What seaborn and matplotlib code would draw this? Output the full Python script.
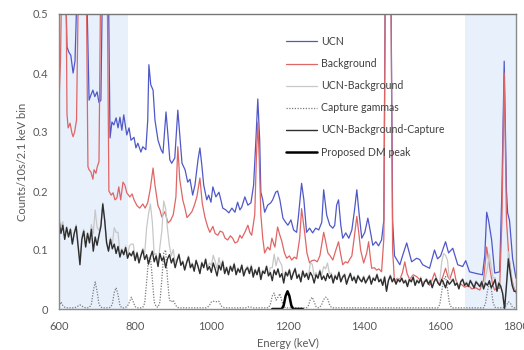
import matplotlib
matplotlib.use("Agg")
import matplotlib.pyplot as plt
import seaborn as sns
import numpy as np
from matplotlib.path import Path
from matplotlib.patches import PathPatch

sns.set_style("white")
plt.rcParams["font.family"] = ["Lato", "DejaVu Sans"]

# ---------------------------------------------------------------- data
# UCN spectrum (keV, counts per 10 s per 2.1 keV bin); values above 0.5 run off the scale
ucn_energy = [600, 616, 621, 626, 631, 637, 642, 650, 671, 679, 684, 689, 694, 700, 705, 710,
              715, 729, 734, 739, 744, 750, 755, 760, 765, 770, 778, 784, 789, 797, 802, 807,
              815, 820, 828, 833, 836, 841, 847, 852, 860, 868, 873, 881, 886, 891, 896, 904,
              912, 917, 923, 931, 938, 944, 951, 957, 965, 970, 975, 980, 988, 993, 999, 1004,
              1012, 1020, 1025, 1030, 1038, 1046, 1054, 1062, 1069, 1075, 1080, 1088, 1096, 1104,
              1111, 1117, 1122, 1127, 1130, 1135, 1140, 1148, 1156, 1161, 1169, 1174, 1180, 1188,
              1195, 1201, 1209, 1216, 1224, 1229, 1237, 1243, 1250, 1258, 1266, 1274, 1282, 1290,
              1295, 1303, 1311, 1319, 1324, 1329, 1334, 1340, 1345, 1353, 1361, 1369, 1376, 1382,
              1387, 1395, 1403, 1411, 1416, 1424, 1432, 1439, 1447, 1453, 1458, 1470, 1476, 1481,
              1495, 1502, 1513, 1526, 1539, 1547, 1555, 1573, 1586, 1594, 1602, 1615, 1623, 1634,
              1647, 1660, 1668, 1678, 1697, 1712, 1718, 1723, 1728, 1736, 1744, 1757, 1763, 1769,
              1775, 1778, 1783, 1791, 1800]
ucn_counts = [0.60, 0.60, 0.444, 0.435, 0.43, 0.40, 0.42, 0.60, 0.60, 0.354, 0.363, 0.371, 0.36, 0.368, 0.35, 0.354,
              0.60, 0.60, 0.29, 0.317, 0.312, 0.324, 0.307, 0.325, 0.303, 0.329, 0.295, 0.307, 0.286, 0.291, 0.273, 0.281,
              0.266, 0.275, 0.27, 0.32, 0.414, 0.38, 0.371, 0.32, 0.286, 0.27, 0.264, 0.334, 0.295, 0.253, 0.247, 0.256,
              0.337, 0.295, 0.247, 0.236, 0.215, 0.22, 0.193, 0.21, 0.253, 0.273, 0.244, 0.21, 0.185, 0.193, 0.181, 0.207,
              0.19, 0.198, 0.185, 0.171, 0.168, 0.163, 0.171, 0.164, 0.181, 0.168, 0.173, 0.19, 0.176, 0.18,
              0.21, 0.286, 0.356, 0.286, 0.198, 0.185, 0.164, 0.176, 0.18, 0.185, 0.198, 0.20, 0.185, 0.154,
              0.147, 0.142, 0.151, 0.134, 0.13, 0.159, 0.213, 0.185, 0.13, 0.137, 0.129, 0.137, 0.134, 0.147,
              0.202, 0.159, 0.142, 0.137, 0.142, 0.176, 0.185, 0.142, 0.12, 0.129, 0.12, 0.134, 0.168, 0.202,
              0.168, 0.12, 0.13, 0.154, 0.137, 0.108, 0.114, 0.107, 0.117, 0.151, 0.70, 0.70, 0.15, 0.09,
              0.075, 0.09, 0.112, 0.08, 0.086, 0.084, 0.075, 0.069, 0.10, 0.085, 0.09, 0.114, 0.095, 0.103,
              0.075, 0.072, 0.082, 0.063, 0.06, 0.058, 0.09, 0.164, 0.15, 0.117, 0.061, 0.063, 0.20, 0.42,
              0.20, 0.163, 0.15, 0.086, 0.052]

# Background spectrum
bkg_energy = [600, 604, 608, 618, 621, 624, 629, 634, 637, 641, 646, 652, 671, 676, 679, 684,
              689, 692, 697, 700, 705, 710, 726, 731, 737, 742, 747, 752, 757, 762, 768, 773,
              778, 786, 792, 797, 805, 812, 820, 826, 833, 840, 847, 852, 860, 865, 870, 878,
              886, 893, 900, 907, 912, 917, 925, 931, 936, 943, 949, 955, 962, 970, 976, 983,
              990, 996, 1004, 1010, 1017, 1023, 1030, 1036, 1043, 1050, 1056, 1062, 1069, 1075, 1080, 1088,
              1096, 1101, 1106, 1114, 1118, 1122, 1126, 1130, 1135, 1140, 1148, 1154, 1159, 1164, 1167, 1174,
              1180, 1185, 1192, 1198, 1205, 1211, 1218, 1224, 1232, 1237, 1241, 1245, 1251, 1258, 1264, 1271,
              1278, 1285, 1290, 1295, 1300, 1306, 1312, 1319, 1327, 1334, 1339, 1345, 1352, 1358, 1364, 1369,
              1375, 1382, 1387, 1392, 1400, 1408, 1413, 1417, 1421, 1428, 1434, 1440, 1447, 1453, 1458, 1470,
              1476, 1481, 1488, 1495, 1502, 1508, 1514, 1521, 1530, 1539, 1547, 1555, 1564, 1573, 1580, 1586,
              1593, 1600, 1608, 1615, 1621, 1626, 1636, 1642, 1647, 1656, 1665, 1675, 1684, 1694, 1705, 1715,
              1723, 1731, 1739, 1744, 1750, 1757, 1763, 1769, 1775, 1781, 1789, 1795, 1800]
bkg_counts = [0.35, 0.42, 0.60, 0.60, 0.33, 0.307, 0.315, 0.298, 0.292, 0.30, 0.32, 0.60, 0.60, 0.241, 0.236, 0.232,
              0.22, 0.236, 0.23, 0.24, 0.25, 0.60, 0.60, 0.20, 0.193, 0.197, 0.185, 0.188, 0.207, 0.185, 0.215, 0.21,
              0.197, 0.19, 0.195, 0.185, 0.175, 0.171, 0.178, 0.171, 0.18, 0.205, 0.239, 0.21, 0.175, 0.168, 0.156, 0.165,
              0.146, 0.15, 0.16, 0.19, 0.275, 0.22, 0.185, 0.17, 0.155, 0.16, 0.165, 0.175, 0.19, 0.222, 0.18, 0.156,
              0.14, 0.13, 0.14, 0.128, 0.125, 0.132, 0.13, 0.12, 0.117, 0.124, 0.12, 0.112, 0.114, 0.125, 0.12, 0.13,
              0.142, 0.13, 0.125, 0.16, 0.25, 0.317, 0.25, 0.16, 0.12, 0.095, 0.105, 0.10, 0.12, 0.11, 0.105, 0.139,
              0.125, 0.115, 0.095, 0.086, 0.09, 0.083, 0.088, 0.085, 0.12, 0.17, 0.15, 0.13, 0.095, 0.078, 0.082, 0.083,
              0.08, 0.09, 0.11, 0.13, 0.115, 0.095, 0.09, 0.083, 0.10, 0.114, 0.095, 0.075, 0.08, 0.078, 0.085, 0.09,
              0.12, 0.157, 0.13, 0.10, 0.078, 0.095, 0.114, 0.09, 0.069, 0.07, 0.066, 0.068, 0.063, 0.12, 0.70, 0.70,
              0.10, 0.046, 0.052, 0.05, 0.062, 0.08, 0.06, 0.05, 0.058, 0.055, 0.05, 0.044, 0.048, 0.04, 0.05, 0.061,
              0.048, 0.042, 0.055, 0.069, 0.055, 0.05, 0.07, 0.05, 0.04, 0.042, 0.037, 0.04, 0.034, 0.036, 0.032, 0.05,
              0.105, 0.07, 0.04, 0.032, 0.036, 0.035, 0.15, 0.40, 0.15, 0.09, 0.05, 0.035, 0.027]

# Common 5 keV grid for the subtracted spectra
grid_energy = np.arange(600, 1801, 5)

# UCN - Background - Capture (residual)
residual = [
    0.150, 0.128, 0.142, 0.118, 0.138, 0.122, 0.135, 0.110, 0.128, 0.140, 0.108, 0.075, 0.118, 0.132, 0.105, 0.128, 0.112, 0.135, 0.098, 0.122,
    0.108, 0.125, 0.140, 0.178, 0.150, 0.112, 0.098, 0.118, 0.102, 0.110, 0.094, 0.106, 0.088, 0.100, 0.092, 0.104, 0.086, 0.095, 0.090, 0.098,
    0.082, 0.095, 0.078, 0.090, 0.100, 0.084, 0.092, 0.076, 0.088, 0.098, 0.080, 0.090, 0.072, 0.094, 0.082, 0.088, 0.070, 0.085, 0.092, 0.078,
    0.086, 0.070, 0.082, 0.092, 0.074, 0.080, 0.066, 0.078, 0.088, 0.070, 0.076, 0.064, 0.082, 0.072, 0.060, 0.078, 0.070, 0.084, 0.066, 0.072,
    0.062, 0.078, 0.068, 0.056, 0.074, 0.066, 0.080, 0.060, 0.070, 0.058, 0.072, 0.064, 0.076, 0.058, 0.068, 0.062, 0.074, 0.056, 0.066, 0.070,
    0.060, 0.072, 0.054, 0.066, 0.058, 0.070, 0.050, 0.064, 0.060, 0.072, 0.056, 0.062, 0.048, 0.066, 0.058, 0.068, 0.054, 0.060, 0.044, 0.062,
    0.056, 0.066, 0.050, 0.060, 0.068, 0.052, 0.058, 0.046, 0.064, 0.054, 0.060, 0.050, 0.062, 0.056, 0.044, 0.058, 0.052, 0.064, 0.050, 0.056,
    0.048, 0.060, 0.052, 0.058, 0.044, 0.056, 0.050, 0.062, 0.046, 0.054, 0.058, 0.042, 0.052, 0.060, 0.048, 0.054, 0.044, 0.056, 0.050, 0.046,
    0.054, 0.044, 0.050, 0.056, 0.042, 0.052, 0.048, 0.058, 0.046, 0.050, 0.040, 0.054, 0.030, 0.048, 0.056, 0.046, 0.052, 0.042, 0.050, 0.046,
    0.052, 0.044, 0.048, 0.038, 0.050, 0.046, 0.054, 0.040, 0.048, 0.044, 0.052, 0.038, 0.046, 0.050, 0.042, 0.048, 0.036, 0.046, 0.052, 0.044,
    0.040, 0.050, 0.044, 0.036, 0.048, 0.042, 0.046, 0.050, 0.040, 0.044, 0.034, 0.046, 0.050, 0.040, 0.044, 0.038, 0.048, 0.042, 0.036, 0.046,
    0.042, 0.038, 0.046, 0.034, 0.044, 0.040, 0.048, 0.036, 0.042, 0.050, 0.030, 0.044, 0.038, 0.026, 0.000, 0.040, 0.085, 0.060, 0.040, 0.030,
    0.030,
]

# Capture gamma template
capture = [
    0.004, 0.012, 0.006, 0.003, 0.002, 0.002, 0.002, 0.002, 0.002, 0.003, 0.005, 0.007, 0.005, 0.003, 0.002, 0.002, 0.003, 0.008, 0.030, 0.046,
    0.030, 0.008, 0.003, 0.002, 0.002, 0.002, 0.002, 0.003, 0.008, 0.028, 0.036, 0.024, 0.006, 0.002, 0.002, 0.003, 0.005, 0.012, 0.020, 0.012,
    0.004, 0.002, 0.002, 0.002, 0.003, 0.010, 0.045, 0.085, 0.090, 0.050, 0.012, 0.004, 0.003, 0.012, 0.050, 0.095, 0.100, 0.050, 0.015, 0.012,
    0.015, 0.008, 0.003, 0.002, 0.002, 0.002, 0.002, 0.002, 0.002, 0.002, 0.002, 0.002, 0.002, 0.002, 0.002, 0.002, 0.002, 0.002, 0.003, 0.006,
    0.012, 0.013, 0.013, 0.012, 0.013, 0.006, 0.003, 0.002, 0.002, 0.002, 0.002, 0.002, 0.002, 0.002, 0.002, 0.002, 0.002, 0.002, 0.002, 0.003,
    0.004, 0.003, 0.002, 0.002, 0.002, 0.002, 0.002, 0.002, 0.002, 0.002, 0.002, 0.008, 0.022, 0.027, 0.015, 0.020, 0.026, 0.014, 0.004, 0.002,
    0.002, 0.002, 0.002, 0.002, 0.002, 0.002, 0.002, 0.002, 0.002, 0.002, 0.002, 0.006, 0.016, 0.020, 0.012, 0.004, 0.002, 0.003, 0.008, 0.016,
    0.020, 0.018, 0.008, 0.003, 0.002, 0.002, 0.002, 0.002, 0.002, 0.002, 0.002, 0.002, 0.002, 0.002, 0.002, 0.002, 0.002, 0.002, 0.002, 0.002,
    0.002, 0.002, 0.002, 0.002, 0.002, 0.002, 0.002, 0.002, 0.002, 0.002, 0.002, 0.002, 0.002, 0.002, 0.002, 0.002, 0.002, 0.002, 0.002, 0.002,
    0.002, 0.002, 0.002, 0.002, 0.002, 0.002, 0.002, 0.002, 0.002, 0.002, 0.002, 0.002, 0.002, 0.002, 0.002, 0.002, 0.002, 0.002, 0.002, 0.002,
    0.008, 0.030, 0.050, 0.055, 0.035, 0.010, 0.003, 0.002, 0.002, 0.002, 0.002, 0.002, 0.002, 0.002, 0.002, 0.002, 0.002, 0.002, 0.002, 0.002,
    0.002, 0.002, 0.002, 0.002, 0.010, 0.030, 0.045, 0.035, 0.010, 0.003, 0.002, 0.002, 0.002, 0.002, 0.003, 0.006, 0.012, 0.010, 0.004, 0.002,
    0.002,
]

# UCN - Background is the residual with the capture gammas put back
ucn_minus_bkg = np.array(residual) + np.array(capture)

# Proposed dark-matter peak
dm_energy = [1160, 1185, 1190, 1195, 1200, 1205, 1210, 1215, 1240]
dm_counts = [0.0, 0.0, 0.006, 0.022, 0.030, 0.022, 0.006, 0.0, 0.0]

# Shaded energy windows
windows = [(600, 780), (1665, 1800)]

x_ticks = [600, 800, 1000, 1200, 1400, 1600, 1800]
y_ticks = [0, 0.1, 0.2, 0.3, 0.4, 0.5]
y_tick_labels = ["0", "0.1", "0.2", "0.3", "0.4", "0.5"]

# ---------------------------------------------------------------- figure
text_color = "#595959"
fig = plt.figure(figsize=(5.24, 3.5), dpi=100)
ax = fig.add_axes([59 / 524, 1 - 309 / 350, 457 / 524, 295 / 350])

for lo, hi in windows:
    ax.axvspan(lo, hi, color="#e8f0fc", lw=0, zorder=0)

# the 1460 keV line is allowed to poke out above the frame
clip_verts = [(590, -0.03), (1810, -0.03), (1810, 0.5), (1476, 0.5), (1476, 0.6),
              (1448, 0.6), (1448, 0.5), (590, 0.5), (590, -0.03)]
clip_patch = PathPatch(Path(clip_verts, closed=True), transform=ax.transData,
                       facecolor="none", edgecolor="none")

sns.lineplot(x=ucn_energy, y=ucn_counts, ax=ax, color="#4f58c8", lw=0.9,
             label="UCN", estimator=None, sort=False, errorbar=None)
ax.lines[-1].set_clip_path(clip_patch)
sns.lineplot(x=bkg_energy, y=bkg_counts, ax=ax, color="#e06565", lw=0.9,
             label="Background", estimator=None, sort=False, errorbar=None)
ax.lines[-1].set_clip_path(clip_patch)
sns.lineplot(x=grid_energy, y=ucn_minus_bkg, ax=ax, color="#c8c8c8", lw=0.9,
             label="UCN-Background", estimator=None, sort=False, errorbar=None)
sns.lineplot(x=grid_energy, y=capture, ax=ax, color="#7a7a7a", lw=0.9,
             linestyle=(0, (1, 1.2)), label="Capture gammas",
             estimator=None, sort=False, errorbar=None)
sns.lineplot(x=grid_energy, y=np.array(ucn_minus_bkg) - np.array(capture), ax=ax,
             color="#2e2e2e", lw=1.0, label="UCN-Background-Capture",
             estimator=None, sort=False, errorbar=None)
sns.lineplot(x=dm_energy, y=dm_counts, ax=ax, color="black", lw=1.8,
             label="Proposed DM peak", estimator=None, sort=False, errorbar=None)

ax.set_xlim(600, 1800)
ax.set_ylim(0, 0.5)
ax.set_xticks(x_ticks)
ax.set_yticks(y_ticks)
ax.set_yticklabels(y_tick_labels)
ax.tick_params(axis="both", labelsize=8, colors=text_color)
ax.tick_params(axis="x", length=3, color="#8c8c8c", pad=6)
ax.tick_params(axis="y", length=0, pad=8)

for side in ["top", "right", "left", "bottom"]:
    ax.spines[side].set_color("#8a8a8a")
    ax.spines[side].set_linewidth(1.0)
ax.spines["top"].set_color("#777777")

ax.set_xlabel("Energy (keV)", fontsize=8, color=text_color, labelpad=4)
ax.set_ylabel("Counts/10s/2.1 keV bin", fontsize=8, color=text_color, labelpad=3)

leg = ax.legend(loc="upper left", bbox_to_anchor=(0.497, 0.925), frameon=False,
                fontsize=7.6, labelspacing=1.05, handlelength=2.9, handletextpad=0.4,
                borderpad=0, borderaxespad=0)
for t in leg.get_texts():
    t.set_color("#404040")

fig.savefig("out.png", dpi=100)
